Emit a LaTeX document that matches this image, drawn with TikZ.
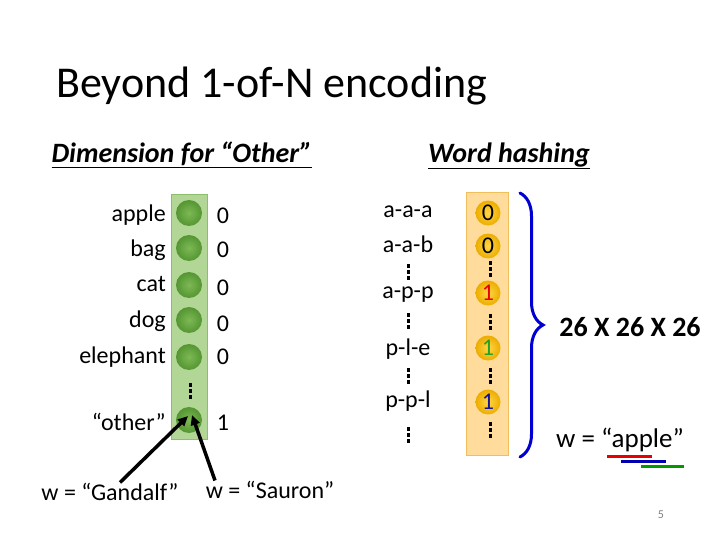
\documentclass[tikz,border=0pt]{standalone}
\usepackage{fontspec}
\setmainfont{Carlito}
\usetikzlibrary{arrows.meta,decorations.pathreplacing}
\definecolor{colgreen}{RGB}{178,214,150}
\definecolor{edgegreen}{RGB}{140,190,110}
\definecolor{ballgreen}{RGB}{125,185,85}
\definecolor{ballgreendk}{RGB}{84,150,50}
\definecolor{colorange}{RGB}{255,220,155}
\definecolor{edgeorange}{RGB}{240,190,90}
\definecolor{ballgold}{RGB}{255,215,70}
\definecolor{ballgolddk}{RGB}{236,172,0}
\definecolor{bracebl}{RGB}{0,0,210}
\definecolor{onered}{RGB}{230,0,0}
\definecolor{onegreen}{RGB}{40,160,40}
\definecolor{oneblue}{RGB}{20,20,150}
% three square dots, centred at (x,y)
\newcommand{\vdd}[2]{\foreach \dy in {-6,0,6} \fill (#1-1.5,#2+\dy-1.75) rectangle ++(3,3.5);}

\begin{document}
\begin{tikzpicture}[x=1pt,y=-1pt,
    every node/.style={font=\fontsize{24}{28}\selectfont, inner sep=0pt},
    gball/.style={circle, minimum size=26pt, inner color=ballgreen, outer color=ballgreendk},
    oball/.style={circle, minimum size=25pt, inner color=ballgold, outer color=ballgolddk},
    word/.style={anchor=base east},
    arr/.style={line width=3.5pt, -{Triangle[length=10pt,width=9pt]}},
    uline/.style={line width=3pt}]
  \useasboundingbox (0,0) rectangle (720,540);
  \node[anchor=base west, font=\fontsize{44}{50}\selectfont] (title) at (56,98) {Beyond 1-of-N encoding};
  \node[font=\fontsize{28}{32}\selectfont\bfseries\itshape] (hdim) at (182,155) {\underline{Dimension for “Other”}};
  \node[font=\fontsize{28}{32}\selectfont\bfseries\itshape] (hhash) at (509,156) {\underline{Word hashing}};

  % one-of-N with the extra dimension
  \fill[colgreen, draw=edgegreen] (171,194) rectangle (207,439);
  \node[gball] (apple) at (189,213) {};
  \node[gball] (bag) at (189,248) {};
  \node[gball] (cat) at (189,285) {};
  \node[gball] (dog) at (189,320) {};
  \node[gball] (elephant) at (189,357) {};
  \vdd{190}{391}
  \node[gball] (other) at (189,420) {};
  \node[word] (wapple) at (166,222) {apple};
  \node[word] (wbag) at (166,256) {bag};
  \node[word] (wcat) at (166,291) {cat};
  \node[word] (wdog) at (166,327) {dog};
  \node[word] (welephant) at (166,363) {elephant};
  \node[word] (wother) at (166,430) {“other”};
  \node[anchor=base] (vapple) at (223,223) {0};
  \node[anchor=base] (vbag) at (223,258) {0};
  \node[anchor=base] (vcat) at (223,295) {0};
  \node[anchor=base] (vdog) at (223,331) {0};
  \node[anchor=base] (velephant) at (223,364) {0};
  \node[anchor=base] (vother) at (223,430) {1};
  \node[anchor=base] (gandalf) at (110,500) {w = “Gandalf”};
  \node[anchor=base] (sauron) at (270,498) {w = “Sauron”};
  \draw[arr] ([xshift=10pt]gandalf.north) -- ([xshift=-1pt,yshift=4pt]other.center);
  \draw[arr] ([xshift=-55pt]sauron.north) -- ([xshift=3pt,yshift=5pt]other.center);

  % word hashing
  \fill[colorange, draw=edgeorange] (466,192) rectangle (508,455);
  \node[oball] (h1) at (488,213) {0};
  \node[oball] (h2) at (488,246) {0};
  \vdd{490}{269}
  \node[oball, text=onered] (h3) at (488,293) {1};
  \vdd{490}{322}
  \node[oball, text=onegreen] (h4) at (488,348) {1};
  \vdd{490}{376}
  \node[oball, text=oneblue] (h5) at (488,402) {1};
  \vdd{490}{430}
  \node[anchor=base] (taaa) at (408,218) {a-a-a};
  \node[anchor=base] (taab) at (408,252) {a-a-b};
  \vdd{408}{272}
  \node[anchor=base] (tapp) at (408,298) {a-p-p};
  \vdd{408}{321}
  \node[anchor=base] (tple) at (408,355) {p-l-e};
  \vdd{408}{376}
  \node[anchor=base] (tppl) at (408,407) {p-p-l};
  \vdd{408}{435}
  \coordinate (brtop) at (520,193);
  \coordinate (brbot) at (520,457);
  \draw[bracebl, line width=3pt, line cap=round, decorate, decoration={brace, amplitude=23pt}] (brtop) -- (brbot);
  \node[font=\fontsize{28}{32}\selectfont\bfseries] (dims) at (630,327) {26 X 26 X 26};
  \node[anchor=base, font=\fontsize{27}{32}\selectfont] (wapple2) at (620,447) {w = “apple”};
  \draw[uline, onered] (607,456) -- (652,456);
  \draw[uline, blue!70!black] (621,461) -- (666,461);
  \draw[uline, green!60!black] (641,466) -- (684,466);
  \node[font=\fontsize{12}{14}\selectfont, text=gray] (page) at (661,515) {5};
\end{tikzpicture}
\end{document}
